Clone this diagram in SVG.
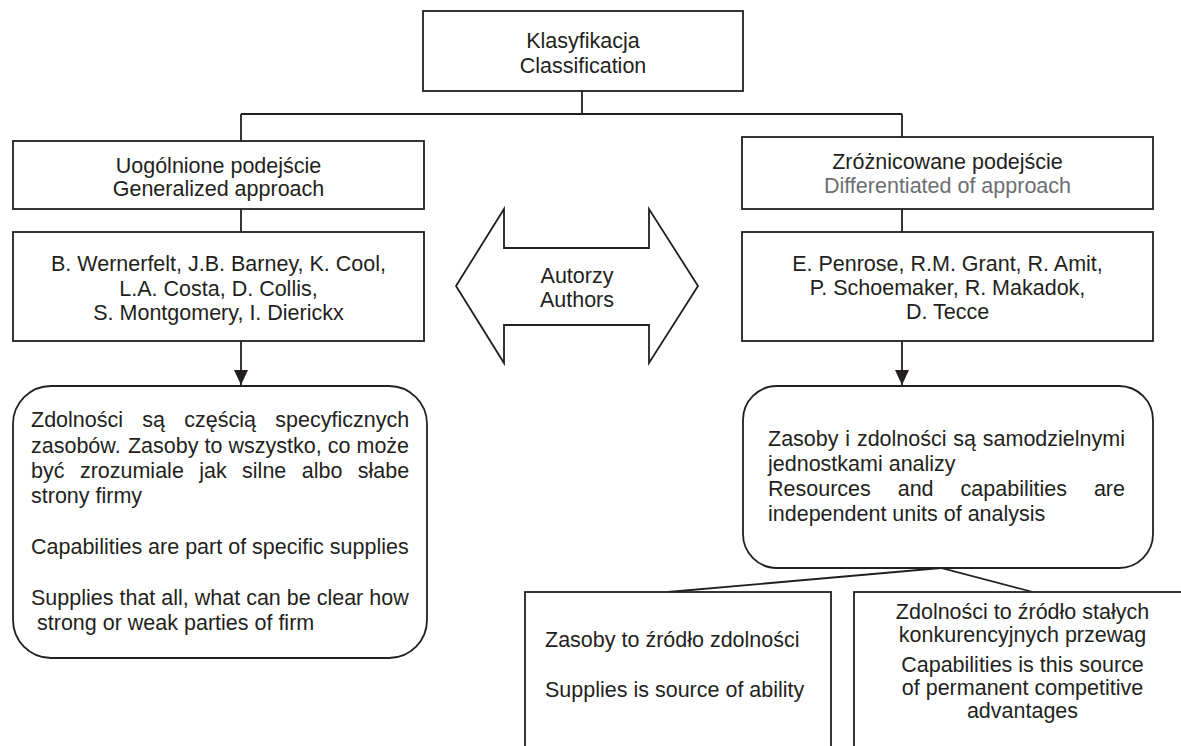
<svg xmlns="http://www.w3.org/2000/svg" width="1181" height="746" viewBox="0 0 1181 746">
<style>
.box{fill:#fff;stroke:#231f20;stroke-width:1.8}
.ln{fill:none;stroke:#231f20;stroke-width:1.8}
text{font-family:"Liberation Sans",Arial,Helvetica,sans-serif;font-size:21.5px;fill:#231f20}
.c{text-anchor:middle}
.g{fill:#6d6e71}
</style>
<defs>
<marker id="ah" markerWidth="15" markerHeight="14" refX="15" refY="7" orient="auto" markerUnits="userSpaceOnUse"><path d="M0,0 L15,7 L0,14 Z" fill="#231f20"/></marker>
</defs>
<rect width="1181" height="746" fill="#fff"/>
<g id="connectors">
<path class="ln" d="M582,91 V114 M241,114 H902 M241,114 V141 M902,114 V137 M241,209 V232 M902,209 V232"/>
<line class="ln" x1="241" y1="341" x2="241" y2="385" marker-end="url(#ah)"/>
<line class="ln" x1="902" y1="341" x2="902" y2="385" marker-end="url(#ah)"/>
<path class="ln" d="M668,592 L941,568 L1033,592"/>
</g>
<g id="classification">
<rect class="box" x="423" y="11" width="320" height="80"/>
<text class="c" x="583" y="48">Klasyfikacja</text>
<text class="c" x="583" y="73">Classification</text>
</g>
<g id="generalized">
<rect class="box" x="13" y="141" width="411" height="68"/>
<text class="c" x="218.5" y="173">Uogólnione podejście</text>
<text class="c" x="218.5" y="196">Generalized approach</text>
</g>
<g id="differentiated">
<rect class="box" x="742" y="137" width="411" height="72"/>
<text class="c" x="947.5" y="169">Zróżnicowane podejście</text>
<text class="c g" x="947.5" y="193">Differentiated of approach</text>
</g>
<g id="authors-left">
<rect class="box" x="13" y="232" width="411" height="109"/>
<text class="c" x="218.5" y="271">B. Wernerfelt, J.B. Barney, K. Cool,</text>
<text class="c" x="218.5" y="296">L.A. Costa, D. Collis,</text>
<text class="c" x="218.5" y="320">S. Montgomery, I. Dierickx</text>
</g>
<g id="authors-right">
<rect class="box" x="742" y="232" width="411" height="109"/>
<text class="c" x="947.5" y="271">E. Penrose, R.M. Grant, R. Amit,</text>
<text class="c" x="947.5" y="295">P. Schoemaker, R. Makadok,</text>
<text class="c" x="947.5" y="319">D. Tecce</text>
</g>
<g id="authors-arrow">
<polygon class="box" points="456,286 504,209 504,248 649,248 649,209 698,286 649,363 649,325 504,325 504,363"/>
<text class="c" x="577" y="283">Autorzy</text>
<text class="c" x="577" y="307">Authors</text>
</g>
<g id="left-desc">
<rect class="box" x="13" y="386" width="414" height="272" rx="38" ry="38"/>
<text y="427"><tspan x="31">Zdolności</tspan><tspan x="142.3">są</tspan><tspan x="184.3">częścią</tspan><tspan x="275.3">specyficznych</tspan></text>
<text y="452.5"><tspan x="31">zasobów.</tspan><tspan x="127.9">Zasoby</tspan><tspan x="204.5">to</tspan><tspan x="228.5">wszystko,</tspan><tspan x="327.8">co</tspan><tspan x="356.5">może</tspan></text>
<text y="478"><tspan x="31">być</tspan><tspan x="79.9">zrozumiale</tspan><tspan x="199.2">jak</tspan><tspan x="242.1">silne</tspan><tspan x="301.7">albo</tspan><tspan x="357.7">słabe</tspan></text>
<text x="31" y="503">strony firmy</text>
<text x="31" y="554">Capabilities are part of specific supplies</text>
<text x="31" y="605">Supplies that all, what can be clear how</text>
<text x="37" y="630">strong or weak parties of firm</text>
</g>
<g id="right-desc">
<rect class="box" x="743" y="386" width="410" height="182" rx="34" ry="34"/>
<text y="446"><tspan x="768">Zasoby</tspan><tspan x="845.3">i</tspan><tspan x="856.9">zdolności</tspan><tspan x="953.3">są</tspan><tspan x="982.8">samodzielnymi</tspan></text>
<text x="768" y="471">jednostkami analizy</text>
<text y="496"><tspan x="768">Resources</tspan><tspan x="897.7">and</tspan><tspan x="960.6">capabilities</tspan><tspan x="1093.9">are</tspan></text>
<text x="768" y="521">independent units of analysis</text>
</g>
<g id="resources-source">
<rect class="box" x="525" y="592" width="306" height="200"/>
<text x="545" y="647">Zasoby to źródło zdolności</text>
<text x="545" y="697">Supplies is source of ability</text>
</g>
<g id="capabilities-source">
<rect class="box" x="854" y="592" width="400" height="200"/>
<text class="c" x="1022.5" y="619">Zdolności to źródło stałych</text>
<text class="c" x="1022.5" y="642">konkurencyjnych przewag</text>
<text class="c" x="1022.5" y="672">Capabilities is this source</text>
<text class="c" x="1022.5" y="695">of permanent competitive</text>
<text class="c" x="1022.5" y="718">advantages</text>
</g>
</svg>
